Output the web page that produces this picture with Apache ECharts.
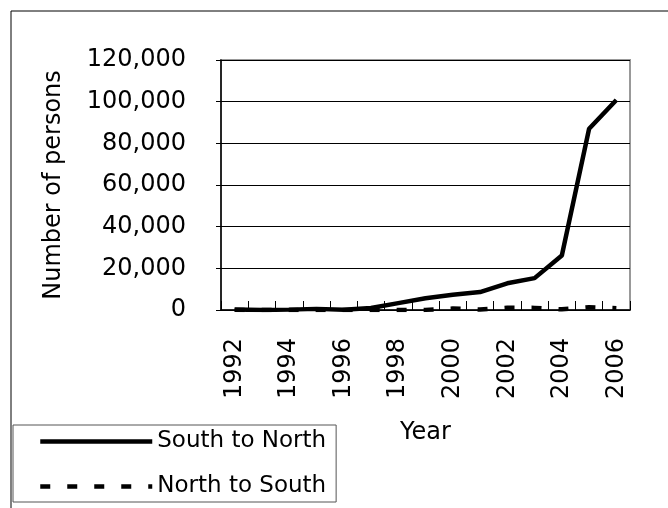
<!DOCTYPE html>
<html>
<head>
<meta charset="utf-8">
<script src="https://cdn.jsdelivr.net/npm/echarts@6/dist/echarts.min.js"></script>
<style>
  html, body { margin: 0; padding: 0; background: #fff; }
  #chart { width: 668px; height: 508px; }
</style>
</head>
<body>
<div id="chart"></div>
<script>
// years on the x axis
const years = ['1992', '1993', '1994', '1995', '1996', '1997', '1998', '1999',
  '2000', '2001', '2002', '2003', '2004', '2005', '2006'];
// persons per year
const southToNorth = [250, 20, 180, 540, 150, 1000, 3300, 5600, 7300, 8600, 12800, 15300, 26200, 87000, 100800];
const northToSouth = [60, 10, 20, 0, 0, 0, 0, 60, 700, 190, 1050, 1020, 320, 1300, 870];

const font = 'DejaVu Sans';

var dom = document.getElementById('chart');
var myChart = echarts.init(dom, null, { renderer: 'canvas' });

var option = {
  animation: false,
  backgroundColor: '#fff',
  graphic: [
    {
      type: 'rect',
      shape: { x: 11, y: 11, width: 700, height: 520 },
      style: { fill: 'none', stroke: '#000', lineWidth: 1 },
      silent: true
    }
  ],
  grid: {
    left: 221, right: 38, top: 60, bottom: 198,
    show: true, borderColor: '#999', borderWidth: 2, backgroundColor: 'transparent'
  },
  legend: {
    orient: 'vertical',
    left: 13, top: 425,
    itemWidth: 112, itemHeight: 14, itemGap: 22,
    padding: [5, 10, 4, 25],
    borderColor: '#555', borderWidth: 1,
    itemStyle: { opacity: 0 },
    lineStyle: { width: 4.5 },
    textStyle: { fontFamily: font, fontSize: 23, color: '#000' },
    data: ['South to North', 'North to South']
  },
  xAxis: {
    type: 'category',
    data: years,
    boundaryGap: true,
    name: 'Year',
    nameLocation: 'middle',
    nameGap: 111,
    nameTextStyle: { fontFamily: font, fontSize: 24, color: '#000' },
    axisLine: { lineStyle: { color: '#000', width: 1.5 } },
    axisTick: { show: true, interval: 0, inside: true, length: 9, lineStyle: { color: '#000' } },
    axisLabel: {
      interval: 1, rotate: 90, margin: 28,
      fontFamily: font, fontSize: 24, color: '#000'
    },
    splitLine: { show: false }
  },
  yAxis: {
    type: 'value',
    min: 0, max: 120000, interval: 20000,
    name: 'Number of persons',
    nameLocation: 'middle',
    nameGap: 155,
    nameRotate: 90,
    nameTextStyle: { fontFamily: font, fontSize: 24, color: '#000' },
    axisLine: { show: true, lineStyle: { color: '#000', width: 1.5 } },
    axisTick: { show: true, length: 5, lineStyle: { color: '#000' } },
    axisLabel: {
      margin: 35, fontFamily: font, fontSize: 24, color: '#000',
      formatter: function (v) { return v.toLocaleString('en-US'); }
    },
    splitLine: { show: true, lineStyle: { color: '#000', width: 1 } }
  },
  series: [
    {
      name: 'South to North',
      type: 'line',
      data: southToNorth,
      symbol: 'none',
      color: '#000',
      lineStyle: { color: '#000', width: 4.5 }
    },
    {
      name: 'North to South',
      type: 'line',
      data: northToSouth,
      symbol: 'none',
      color: '#000',
      lineStyle: { color: '#000', width: 4.5, type: [10, 17] }
    }
  ]
};

myChart.setOption(option);
window.addEventListener('resize', myChart.resize);
</script>
</body>
</html>
